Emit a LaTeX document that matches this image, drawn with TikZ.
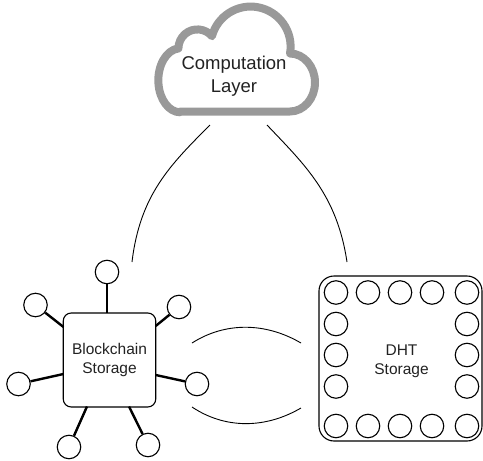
\documentclass[tikz,border=0pt]{standalone}
\usepackage{fontspec}
\setmainfont{Liberation Sans}
\definecolor{cloudgray}{HTML}{999999}
\definecolor{txt}{HTML}{222222}
\begin{document}
\begin{tikzpicture}[x=1pt,y=-1pt,
  sat/.style={circle,draw,line width=1.1pt,minimum size=23.5pt,inner sep=0pt,fill=white},
  spoke/.style={line width=2.4pt},
  link/.style={line width=0.9pt},
  boxtext/.style={font=\fontsize{15.5}{19.5}\selectfont,text=txt,align=center},
  bcbox/.style={draw,line width=1.1pt,rounded corners=8pt,fill=white,minimum width=92.5pt,minimum height=94pt,inner sep=0pt},
  dhtbox/.style={draw,line width=1.1pt,rounded corners=15pt,minimum width=163pt,minimum height=165pt,inner sep=0pt}]
\useasboundingbox (0,0) rectangle (483,461);

% cloud
\draw[line width=8pt,color=cloudgray,fill=white,line join=round]
  (180.3,111.5) -- (290,111.5)
  arc[start angle=90,end angle=-90,x radius=25,y radius=29]
  arc[start angle=10,end angle=-165,radius=40]
  arc[start angle=-40,end angle=-180,radius=19]
  arc[start angle=-95,end angle=-270,x radius=22,y radius=32] -- cycle;
\node[font=\fontsize{18.5}{22.5}\selectfont,text=txt,align=center] (cloud) at (234,76) {Computation\\Layer};

% blockchain storage
\node[bcbox,boxtext] (bc) at (109.5,360) {Blockchain\\Storage};
\node[sat] (s1) at (107,272) {};
\node[sat] (s2) at (35.5,305) {};
\node[sat] (s3) at (179,307) {};
\node[sat] (s4) at (18.5,384) {};
\node[sat] (s5) at (197,384) {};
\node[sat] (s6) at (69,447) {};
\node[sat] (s7) at (148,445) {};
\coordinate (e1) at (107,313);
\coordinate (e2) at (63.5,327);
\coordinate (e3) at (155.7,326);
\coordinate (e4) at (63.5,374);
\coordinate (e5) at (155.7,375);
\coordinate (e6) at (87,406.5);
\coordinate (e7) at (129,406.5);
\foreach \i in {1,...,7} {\draw[spoke] (s\i) -- (e\i);}

% DHT storage
\node[dhtbox] (dht) at (400.5,358.5) {};
\node[boxtext] (dhttext) at (401.5,361.5) {DHT\\Storage};
\foreach \x [count=\k] in {336,368,400,432,467} {
  \node[sat,fill=none] (dt\k) at (\x,292.5) {};
  \node[sat,fill=none] (db\k) at (\x,426) {};
}
\foreach \y [count=\k] in {324,355,386.5} {
  \node[sat,fill=none] (dl\k) at (336,\y) {};
  \node[sat,fill=none] (dr\k) at (467,\y) {};
}

% connectors
\coordinate (c1) at (210,125);
\coordinate (b1) at (132,262);
\coordinate (c2) at (267,125);
\coordinate (b2) at (347,262);
\draw[link] (c1) .. controls (170,165) and (140,195) .. (b1);
\draw[link] (c2) .. controls (305,165) and (337,195) .. (b2);
\coordinate (m1) at (192,343);
\coordinate (m2) at (301,343);
\coordinate (m3) at (192,407);
\coordinate (m4) at (301,408);
\draw[link] (m1) .. controls (225,322) and (265,322) .. (m2);
\draw[link] (m3) .. controls (225,429) and (265,429) .. (m4);
\end{tikzpicture}
\end{document}
